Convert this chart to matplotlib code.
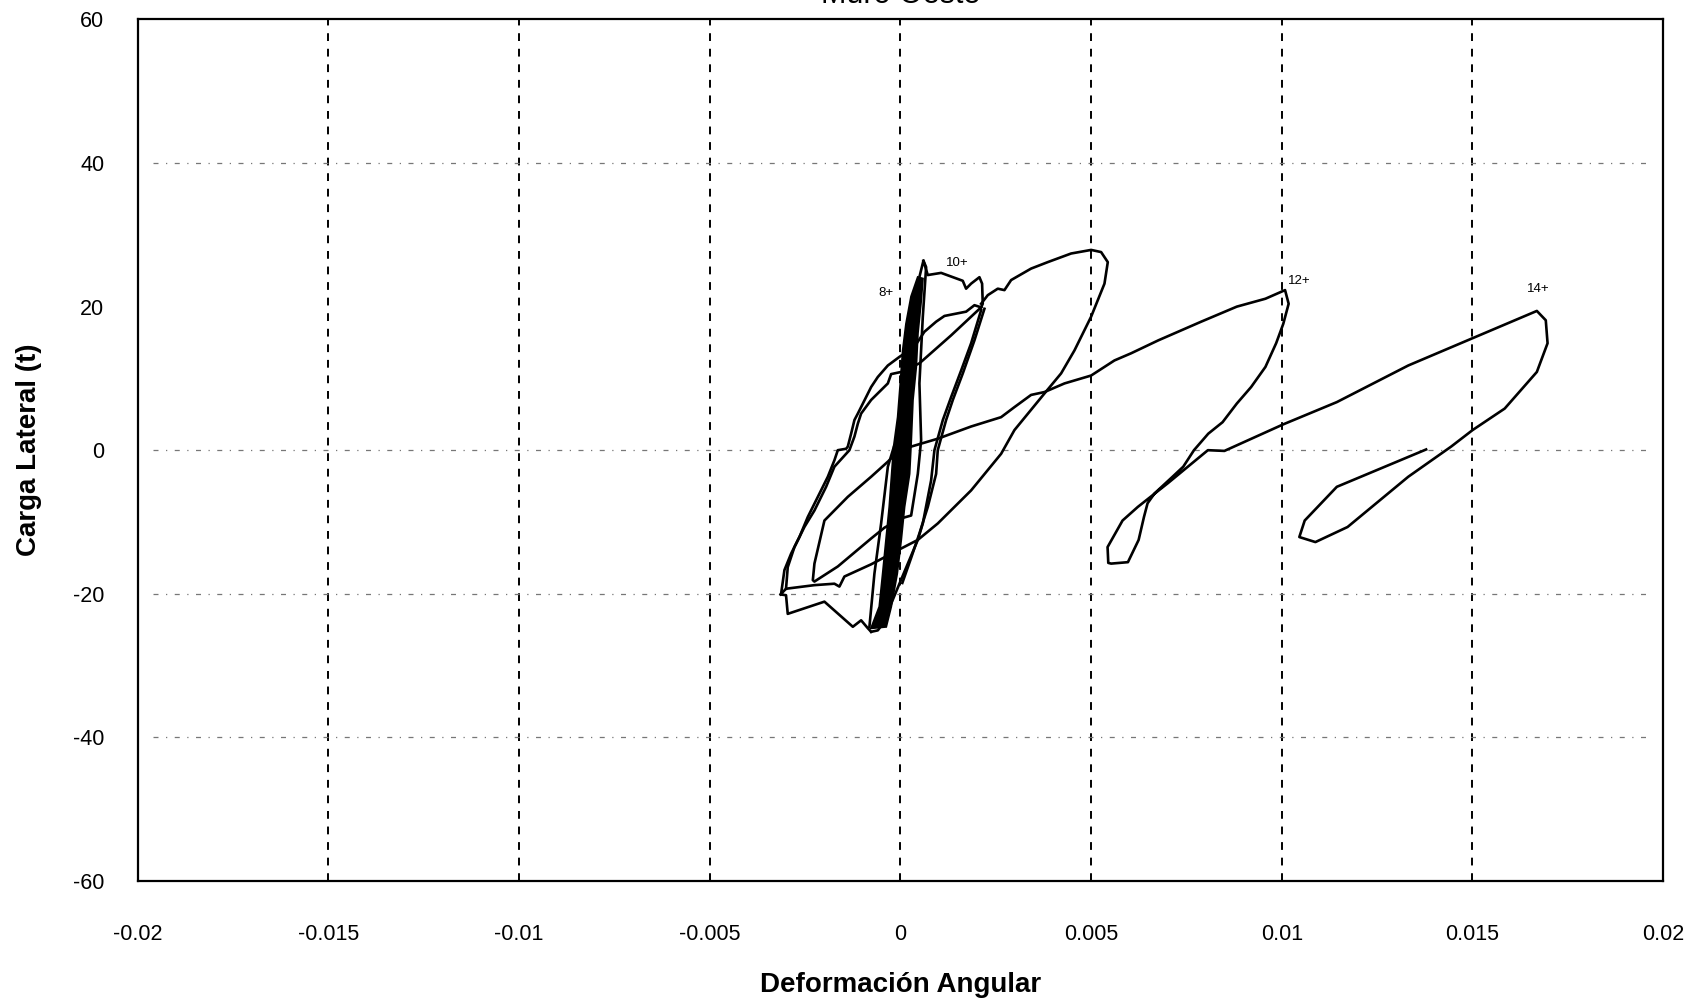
"Curva histeretica carga lateral vs deformacion angular (Muro Oeste)."

import matplotlib
matplotlib.use("Agg")
import matplotlib.pyplot as plt

# ejes
x_ticks = [-0.02, -0.015, -0.01, -0.005, 0, 0.005, 0.01, 0.015, 0.02]
x_tick_labels = ["-0.02", "-0.015", "-0.01", "-0.005", "0", "0.005", "0.01", "0.015", "0.02"]
y_ticks = [60, 40, 20, 0, -20, -40, -60]
y_tick_labels = ["60", "40", "20", "0", "-20", "-40", "-60"]
y_grid_visible = [40, 0, -20, -40]

# zona densa de ciclos pequenos (contorno)
banda_x = [0.000456, 0.000281, 0.000149, 0.000063, 0.0, -0.000069, -0.000174, -0.000226,
           -0.000289, -0.000375, -0.000462, -0.000551, -0.000768,
           -0.000375, -0.000244, -0.000087, 0.000018, 0.000105, 0.000237, 0.000281,
           0.000325, 0.000412, 0.000456, 0.000543, 0.000587]
banda_y = [24.1, 21.4, 17.6, 13.9, 9.3, 4.6, 0.5, -3.3, -7.9, -12.5, -17.2, -21.8, -24.8,
           -24.6, -21.8, -17.2, -12.5, -7.9, -3.3, 1.4, 7.0, 11.6, 16.3, 20.9, 23.9]

# ciclo 10+ : pico
pico10_x = [0.00040, 0.000603, 0.000717, 0.001067, 0.001635, 0.001722, 0.001853, 0.002072,
            0.002142, 0.002159, 0.002116]
pico10_y = [22.0, 26.4, 24.4, 24.7, 23.6, 22.5, 23.2, 24.1, 23.2, 20.4, 19.9]

# lazo grande hasta 0.005
lazo_x = [0.002116, 0.002291, 0.002553, 0.002728, 0.002903, 0.003427, 0.003864, 0.004476,
          0.005001, 0.005263, 0.005438, 0.005351, 0.005001, 0.004564, 0.004214, 0.003777,
          0.00299, 0.002641, 0.001854, 0.000981, 0.000456, 0.000018, -0.000768, -0.001469,
          -0.0016, -0.001731, -0.002255, -0.003, -0.003143, -0.003, -0.002955, -0.001993,
          -0.001248, -0.001031, -0.000855, -0.000768]
lazo_y = [20.4, 21.6, 22.5, 22.3, 23.7, 25.3, 26.2, 27.4, 27.9, 27.6, 26.2, 23.2, 18.6, 13.9,
          10.7, 7.9, 2.8, -0.5, -5.6, -10.2, -12.5, -13.7, -15.9, -17.6, -19.0, -18.6, -18.8,
          -19.3, -20.1, -20.2, -22.8, -21.1, -24.6, -23.7, -24.8, -25.3]

# ramas izquierdas
rama_ext_x = [0.002116, 0.001941, 0.001723, 0.001154, 0.000936, 0.000629, 0.000367, -0.000026,
              -0.00033, -0.000593, -0.000768, -0.0009, -0.001117, -0.001206, -0.001293, -0.00138,
              -0.001424, -0.001642, -0.001731, -0.001904, -0.002166, -0.002429, -0.002649,
              -0.002866, -0.003042, -0.003129, -0.003143]
rama_ext_y = [19.9, 20.2, 19.3, 18.7, 17.9, 16.5, 14.4, 13.0, 11.8, 10.2, 8.8, 7.4, 5.1, 4.2,
              2.3, 0.5, 0.2, 0.0, -1.4, -3.7, -6.5, -9.3, -12.1, -14.4, -16.7, -20.0, -20.1]

rama_int_x = [0.002116, 0.00133, 0.000498, 0.000018, -0.000244, -0.00033, -0.000768, -0.001031,
              -0.001117, -0.001206, -0.001338, -0.001731, -0.001949, -0.002255, -0.002518,
              -0.00278, -0.002955, -0.003]
rama_int_y = [19.9, 16.0, 12.1, 10.9, 10.6, 9.3, 7.0, 5.1, 3.7, 1.9, 0.0, -2.3, -5.1, -8.4,
              -10.7, -13.5, -16.3, -19.3]

# descargas del ciclo 10+
desc1_x = [0.002116, 0.001854, 0.001592, 0.00133, 0.001112, 0.000892, 0.000805, 0.000587,
           0.000456, 0.000194, -0.000026, -0.000244, -0.00042, -0.000593, -0.000768]
desc1_y = [19.5, 14.9, 11.1, 7.4, 4.2, 0.0, -4.2, -10.2, -12.5, -15.8, -18.6, -21.4, -23.9,
           -25.1, -25.3]
desc2_x = [0.002203, 0.001941, 0.001636, 0.001374, 0.001198, 0.000979, 0.000936, 0.000718,
           0.000498, 0.000281, 0.00005]
desc2_y = [19.7, 15.3, 10.7, 7.0, 4.2, 0.0, -3.3, -7.9, -11.6, -15.0, -18.5]

# linea delgada desde el pico 10+ y lazo interior
delgada_x = [0.000603, 0.000674, 0.000587, 0.000498, 0.000543, 0.000456, 0.000281, 0.000018,
             -0.00042, -0.000768, -0.001642, -0.002255, -0.002297, -0.002255, -0.001993,
             -0.00138, -0.000768, -0.00033, -0.000157]
delgada_y = [26.4, 25.5, 18.6, 9.3, 1.4, -3.3, -9.1, -9.5, -10.8, -12.3, -16.2, -18.3, -18.1,
             -15.8, -9.8, -6.5, -3.7, -1.6, -0.7]

borde_x = [-0.00017, -0.00033, -0.000506, -0.000682, -0.000813]
borde_y = [0.5, -2.3, -10.2, -17.2, -24.6]

# ciclos 12+ y 14+
rama12_x = [0.000281, 0.000979, 0.001854, 0.00264, 0.00299, 0.003427, 0.003777, 0.004302,
            0.005001, 0.005612, 0.00605, 0.006762, 0.007886, 0.008822, 0.009572, 0.010087,
            0.010181, 0.01004, 0.009853, 0.009572, 0.009197, 0.008822, 0.008448, 0.008073,
            0.007698, 0.007417, 0.007136, 0.006668, 0.006481, 0.006387, 0.006247, 0.005966,
            0.005526, 0.005451, 0.005432, 0.005825, 0.006226, 0.007013, 0.007698, 0.008063,
            0.008497, 0.01004, 0.011445, 0.013318, 0.015004, 0.01669, 0.016924, 0.016971,
            0.01669, 0.015847, 0.015004, 0.014442, 0.013318, 0.011726, 0.010883, 0.010461,
            0.010602, 0.011445, 0.013786]
rama12_y = [0.5, 1.6, 3.3, 4.6, 6.0, 7.7, 8.1, 9.3, 10.4, 12.5, 13.5, 15.3, 17.9, 20.0, 21.1,
            22.3, 20.4, 17.6, 14.9, 11.6, 8.8, 6.5, 3.9, 2.3, 0.0, -2.3, -3.7, -6.0, -7.4, -9.3,
            -12.5, -15.6, -15.8, -15.7, -13.5, -9.8, -7.9, -4.6, -1.6, 0.0, -0.1, 3.6, 6.7,
            11.8, 15.6, 19.4, 18.1, 14.9, 10.9, 5.8, 2.8, 0.5, -3.7, -10.7, -12.8, -12.1, -9.8,
            -5.1, 0.1]

etiquetas = ["8+", "10+", "12+", "14+"]
etiquetas_x = [-0.00037, 0.00148, 0.01047, 0.01673]
etiquetas_y = [21.9, 26.1, 23.6, 22.5]

fig = plt.figure(figsize=(17.01, 10.05), dpi=100)
ax = fig.add_axes([0.0810, 0.1235, 0.8967, 0.8571])

lw = 1.9
ax.fill(banda_x, banda_y, color="black", lw=1.5, zorder=3)
for xs, ys in [(pico10_x, pico10_y), (lazo_x, lazo_y), (rama_ext_x, rama_ext_y),
               (rama_int_x, rama_int_y), (desc1_x, desc1_y), (desc2_x, desc2_y),
               (delgada_x, delgada_y), (borde_x, borde_y), (rama12_x, rama12_y)]:
    ax.plot(xs, ys, color="black", lw=lw, solid_joinstyle="round", zorder=3)

for txt, tx, ty in zip(etiquetas, etiquetas_x, etiquetas_y):
    ax.text(tx, ty, txt, fontsize=9.5, ha="center", va="center",
            family=["Liberation Sans", "DejaVu Sans"])

ax.set_xlim(-0.02, 0.02)
ax.set_ylim(-60, 60)
ax.set_xticks(x_ticks)
ax.set_xticklabels(x_tick_labels)
ax.set_yticks(y_ticks)
ax.set_yticklabels(y_tick_labels)

for xv in x_ticks[1:-1]:
    ax.axvline(xv, color="black", lw=1.4, linestyle=(0, (4, 4)), zorder=1)
for yv in y_grid_visible:
    ax.axhline(yv, xmin=0.01, xmax=0.99, color="#777777", lw=0.9,
               linestyle=(0, (4, 6, 1, 6)), zorder=1)

for s in ax.spines.values():
    s.set_linewidth(1.6)
    s.set_color("black")

ax.tick_params(axis="both", length=0, labelsize=15.5)
ax.tick_params(axis="x", pad=31)
ax.tick_params(axis="y", pad=24)
for lab in ax.get_xticklabels() + ax.get_yticklabels():
    lab.set_family(["Liberation Sans", "DejaVu Sans"])

label_font = ["Liberation Sans Narrow", "Liberation Sans", "DejaVu Sans"]
ax.set_xlabel("Deformación Angular", fontsize=20, weight="bold", family=label_font, va="center")
ax.xaxis.set_label_coords(0.5, -0.1209)
ax.set_ylabel("Carga Lateral (t)", fontsize=20, weight="bold", family=label_font, va="center")
ax.yaxis.set_label_coords(-0.0713, 0.5)

fig.text(0.0810 + 0.8967 / 2, 1 - 3 / 1005, "Muro Oeste", ha="center", va="baseline",
         fontsize=22, family=["Liberation Sans", "DejaVu Sans"])

fig.savefig("out.png", dpi=100)
